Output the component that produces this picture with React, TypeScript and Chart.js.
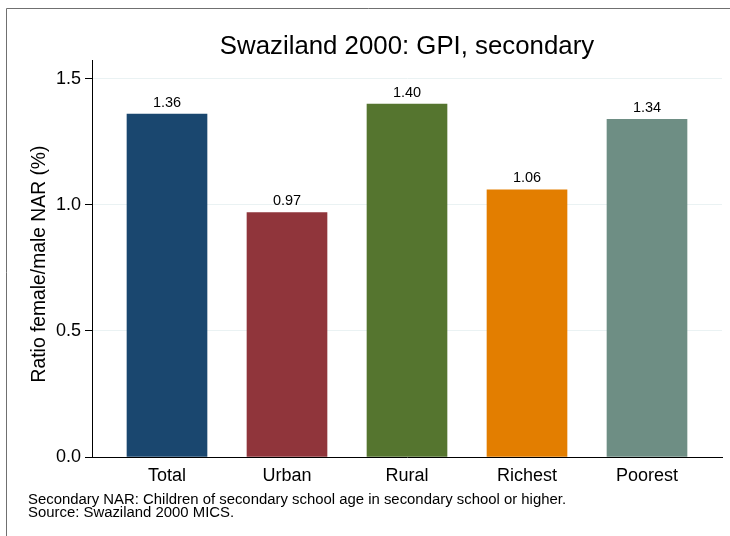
import React, { useEffect, useRef } from "react";
import { Chart, registerables } from "chart.js";

Chart.register(...registerables);

const TITLE = "Swaziland 2000: GPI, secondary";
const CATEGORIES = ["Total", "Urban", "Rural", "Richest", "Poorest"];
const VALUES = [1.36, 0.97, 1.4, 1.06, 1.34];
const VALUE_LABELS = ["1.36", "0.97", "1.40", "1.06", "1.34"];
const COLORS = ["#1a476f", "#90353b", "#55752f", "#e37e00", "#6e8e84"];
const Y_TICKS = [0, 0.5, 1.0, 1.5];
const Y_TITLE = "Ratio female/male NAR (%)";
const NOTES = [
  "Secondary NAR: Children of secondary school age in secondary school or higher.",
  "Source: Swaziland 2000 MICS.",
];

const FONT = "'Liberation Sans', Arial, Helvetica, sans-serif";

export default function App() {
  const ref = useRef<HTMLCanvasElement>(null);

  useEffect(() => {
    if (!ref.current) return;
    const decor = {
      id: "decor",
      beforeDraw(chart: any) {
        const ctx = chart.ctx;
        ctx.save();
        ctx.fillStyle = "#ffffff";
        ctx.fillRect(0, 0, chart.width, chart.height);
        ctx.strokeStyle = "#707070";
        ctx.lineWidth = 1;
        ctx.beginPath();
        ctx.moveTo(6.5, chart.height + 5);
        ctx.lineTo(6.5, 8.5);
        ctx.lineTo(chart.width + 5, 8.5);
        ctx.stroke();
        ctx.restore();
      },
      afterDraw(chart: any) {
        const ctx = chart.ctx;
        const area = chart.chartArea;
        ctx.save();
        ctx.fillStyle = "#000000";
        ctx.textBaseline = "alphabetic";
        ctx.textAlign = "center";
        ctx.font = `25.8px ${FONT}`;
        ctx.fillText(TITLE, (area.left + area.right) / 2, 54);
        ctx.textAlign = "left";
        ctx.font = `14.9px ${FONT}`;
        ctx.fillText(NOTES[0], 28, 504);
        ctx.fillText(NOTES[1], 28, 517);
        ctx.save();
        ctx.translate(45, 264);
        ctx.rotate(-Math.PI / 2);
        ctx.textAlign = "center";
        ctx.font = `19.3px ${FONT}`;
        ctx.fillText(Y_TITLE, 0, 0);
        ctx.restore();
        ctx.restore();
      },
      afterDatasetsDraw(chart: any) {
        const ctx = chart.ctx;
        const meta = chart.getDatasetMeta(0);
        ctx.save();
        ctx.fillStyle = "#000000";
        ctx.textAlign = "center";
        ctx.textBaseline = "alphabetic";
        ctx.font = `14.5px ${FONT}`;
        meta.data.forEach((el: any, i: number) => {
          ctx.fillText(VALUE_LABELS[i], el.x, el.y - 7.5);
        });
        ctx.restore();
      },
    };

    const chart = new Chart(ref.current, {
      type: "bar",
      data: {
        datasets: [
          {
            data: VALUES.map((v, i) => ({ x: i, y: v })),
            backgroundColor: COLORS,
            borderWidth: 0,
            barThickness: 80,
          },
        ],
      },
      options: {
        animation: false,
        responsive: false,
        maintainAspectRatio: false,
        layout: { padding: { top: 60, right: 8, left: 0, bottom: 0 } },
        plugins: {
          legend: { display: false },
          tooltip: { enabled: false },
          title: { display: false },
        },
        scales: {
          x: {
            type: "linear",
            offset: false,
            min: -0.625,
            max: 4.625,
            afterBuildTicks: (scale: any) => {
              scale.ticks = CATEGORIES.map((_, i) => ({ value: i }));
            },
            afterFit: (scale: any) => {
              scale.height = 79;
            },
            ticks: {
              autoSkip: false,
              maxRotation: 0,
              padding: 8,
              color: "#000000",
              font: { family: FONT, size: 18 },
              callback: (v: any) => CATEGORIES[v] ?? "",
            },
            grid: { display: false, drawTicks: false, offset: false },
            border: { display: true, color: "#000000", width: 1 },
          },
          y: {
            type: "linear",
            min: 0,
            max: 1.575,
            afterBuildTicks: (scale: any) => {
              scale.ticks = Y_TICKS.map((v) => ({ value: v }));
            },
            afterFit: (scale: any) => {
              scale.width = 92;
            },
            ticks: {
              padding: 4,
              color: "#000000",
              font: { family: FONT, size: 18 },
              callback: (v: any) => Number(v).toFixed(1),
            },
            grid: {
              color: "#eaf2f3",
              tickColor: "#000000",
              tickLength: 7,
              lineWidth: 1,
            },
            border: { display: true, color: "#000000", width: 1 },
            title: { display: false },
          },
        },
      },
      plugins: [decor],
    } as any);

    return () => chart.destroy();
  }, []);

  return (
    <div style={{ position: "fixed", left: 0, top: 0, width: 730, height: 536, background: "#fff" }}>
      <canvas ref={ref} width={730} height={536} style={{ display: "block", width: 730, height: 536 }} />
    </div>
  );
}
